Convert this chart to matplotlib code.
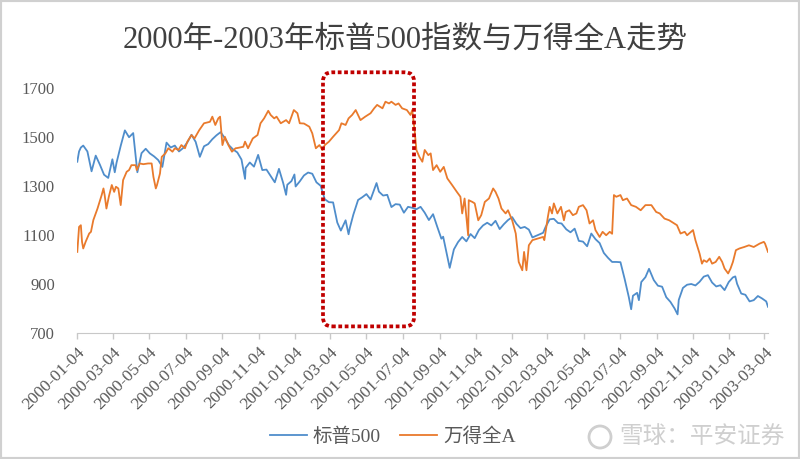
import matplotlib
matplotlib.use("Agg")
import matplotlib.pyplot as plt
import matplotlib.dates as mdates
import matplotlib.transforms as mtransforms
from matplotlib.patches import FancyBboxPatch, Rectangle, Circle
import pandas as pd

# 标普500 (周度读数 + 关键高低点)
spx_dates = [
    "2000-01-04", "2000-01-07", "2000-01-10", "2000-01-14", "2000-01-21", "2000-01-28",
    "2000-02-04", "2000-02-11", "2000-02-18", "2000-02-25", "2000-03-03", "2000-03-07",
    "2000-03-10", "2000-03-17", "2000-03-24", "2000-03-31", "2000-04-07", "2000-04-14",
    "2000-04-21", "2000-04-28", "2000-05-05", "2000-05-12", "2000-05-19", "2000-05-26",
    "2000-06-02", "2000-06-09", "2000-06-16", "2000-06-23", "2000-06-30", "2000-07-07",
    "2000-07-14", "2000-07-21", "2000-07-28", "2000-08-04", "2000-08-11", "2000-08-18",
    "2000-08-25", "2000-09-01", "2000-09-08", "2000-09-15", "2000-09-22", "2000-09-29",
    "2000-10-06", "2000-10-12", "2000-10-13", "2000-10-20", "2000-10-27", "2000-11-03",
    "2000-11-10", "2000-11-17", "2000-11-24", "2000-12-01", "2000-12-08", "2000-12-15",
    "2000-12-20", "2000-12-22", "2000-12-29", "2001-01-03", "2001-01-05", "2001-01-12",
    "2001-01-19", "2001-01-26", "2001-02-02", "2001-02-09", "2001-02-16", "2001-02-23",
    "2001-03-02", "2001-03-09", "2001-03-16", "2001-03-22", "2001-03-30", "2001-04-04",
    "2001-04-06", "2001-04-12", "2001-04-20", "2001-04-27", "2001-05-04", "2001-05-11",
    "2001-05-21", "2001-05-25", "2001-06-01", "2001-06-08", "2001-06-15", "2001-06-22",
    "2001-06-29", "2001-07-06", "2001-07-13", "2001-07-20", "2001-07-27", "2001-08-03",
    "2001-08-10", "2001-08-17", "2001-08-24", "2001-08-31", "2001-09-07", "2001-09-10",
    "2001-09-21", "2001-09-28", "2001-10-05", "2001-10-12", "2001-10-19", "2001-10-26",
    "2001-11-02", "2001-11-09", "2001-11-16", "2001-11-23", "2001-11-30", "2001-12-07",
    "2001-12-14", "2001-12-21", "2001-12-28", "2002-01-04", "2002-01-11", "2002-01-18",
    "2002-01-25", "2002-02-01", "2002-02-07", "2002-02-25", "2002-03-01", "2002-03-08",
    "2002-03-15", "2002-03-22", "2002-03-28", "2002-04-05", "2002-04-12", "2002-04-19",
    "2002-04-26", "2002-05-03", "2002-05-10", "2002-05-17", "2002-05-24", "2002-05-31",
    "2002-06-07", "2002-06-14", "2002-06-21", "2002-06-28", "2002-07-05", "2002-07-12",
    "2002-07-19", "2002-07-23", "2002-07-26", "2002-08-02", "2002-08-05", "2002-08-09",
    "2002-08-16", "2002-08-22", "2002-08-30", "2002-09-06", "2002-09-13", "2002-09-20",
    "2002-09-27", "2002-10-04", "2002-10-09", "2002-10-11", "2002-10-18", "2002-10-25",
    "2002-11-01", "2002-11-08", "2002-11-15", "2002-11-22", "2002-11-29", "2002-12-06",
    "2002-12-13", "2002-12-20", "2002-12-27", "2003-01-03", "2003-01-10", "2003-01-14",
    "2003-01-17", "2003-01-24", "2003-01-31", "2003-02-07", "2003-02-14", "2003-02-21",
    "2003-02-28", "2003-03-07", "2003-03-10",
]
spx_vals = [
    1399, 1441, 1457, 1465, 1441, 1360,
    1424, 1387, 1346, 1333, 1409, 1356,
    1395, 1464, 1527, 1499, 1516, 1356,
    1434, 1452, 1433, 1421, 1406, 1378,
    1477, 1457, 1465, 1441, 1455, 1478,
    1509, 1480, 1419, 1462, 1471, 1491,
    1507, 1520, 1495, 1466, 1449, 1437,
    1408, 1329, 1374, 1396, 1379, 1427,
    1365, 1367, 1341, 1315, 1370, 1313,
    1264, 1305, 1320, 1347, 1298, 1319,
    1343, 1355, 1350, 1315, 1301, 1246,
    1234, 1233, 1151, 1118, 1160, 1103,
    1128, 1183, 1243, 1254, 1267, 1245,
    1312, 1277, 1261, 1264, 1214, 1226,
    1224, 1191, 1215, 1211, 1205, 1215,
    1191, 1161, 1185, 1134, 1085, 1093,
    966, 1041, 1071, 1092, 1074, 1104,
    1087, 1120, 1139, 1150, 1139, 1158,
    1124, 1144, 1161, 1173, 1146, 1128,
    1133, 1122, 1090, 1109, 1132, 1164,
    1166, 1149, 1147, 1123, 1111, 1126,
    1076, 1073, 1054, 1106, 1083, 1067,
    1027, 1007, 990, 990, 989, 921,
    847, 797, 852, 864, 834, 908,
    928, 962, 916, 893, 889, 846,
    827, 800, 776, 835, 884, 897,
    900, 894, 909, 930, 936, 906,
    890, 895, 875, 908, 927, 931,
    901, 861, 856, 829, 834, 851,
    841, 829, 807,
]

# 万得全A
wind_dates = [
    "2000-01-04", "2000-01-07", "2000-01-10", "2000-01-12", "2000-01-14", "2000-01-18",
    "2000-01-24", "2000-01-27", "2000-01-31", "2000-02-07", "2000-02-14", "2000-02-17",
    "2000-02-19", "2000-02-22", "2000-02-26", "2000-03-02", "2000-03-06", "2000-03-09",
    "2000-03-13", "2000-03-17", "2000-03-21", "2000-03-27", "2000-03-31", "2000-04-04",
    "2000-04-11", "2000-04-13", "2000-04-18", "2000-04-24", "2000-05-02", "2000-05-08",
    "2000-05-11", "2000-05-15", "2000-05-17", "2000-05-22", "2000-05-25", "2000-05-31",
    "2000-06-05", "2000-06-12", "2000-06-16", "2000-06-22", "2000-06-27", "2000-07-03",
    "2000-07-07", "2000-07-14", "2000-07-19", "2000-07-27", "2000-08-04", "2000-08-14",
    "2000-08-18", "2000-08-23", "2000-08-28", "2000-08-31", "2000-09-04", "2000-09-08",
    "2000-09-14", "2000-09-20", "2000-09-26", "2000-09-29", "2000-10-09", "2000-10-12",
    "2000-10-17", "2000-10-25", "2000-11-02", "2000-11-07", "2000-11-13", "2000-11-20",
    "2000-11-24", "2000-11-30", "2000-12-04", "2000-12-11", "2000-12-20", "2000-12-25",
    "2001-01-02", "2001-01-08", "2001-01-12", "2001-01-19", "2001-01-28", "2001-02-02",
    "2001-02-08", "2001-02-14", "2001-02-19", "2001-02-23", "2001-03-02", "2001-03-09",
    "2001-03-19", "2001-03-23", "2001-03-30", "2001-04-04", "2001-04-10", "2001-04-16",
    "2001-04-24", "2001-05-02", "2001-05-11", "2001-05-17", "2001-05-22", "2001-05-31",
    "2001-06-05", "2001-06-11", "2001-06-15", "2001-06-22", "2001-06-27", "2001-07-03",
    "2001-07-11", "2001-07-17", "2001-07-20", "2001-07-24", "2001-07-27", "2001-08-01",
    "2001-08-06", "2001-08-10", "2001-08-16", "2001-08-20", "2001-08-24", "2001-08-30",
    "2001-09-05", "2001-09-11", "2001-09-17", "2001-09-25", "2001-10-03", "2001-10-09",
    "2001-10-12", "2001-10-16", "2001-10-22", "2001-10-23", "2001-10-29", "2001-11-02",
    "2001-11-08", "2001-11-13", "2001-11-19", "2001-11-26", "2001-12-03", "2001-12-07",
    "2001-12-12", "2001-12-17", "2001-12-24", "2001-12-28", "2002-01-04", "2002-01-10",
    "2002-01-15", "2002-01-21", "2002-01-24", "2002-01-28", "2002-02-01", "2002-02-07",
    "2002-02-25", "2002-02-27", "2002-03-05", "2002-03-08", "2002-03-12", "2002-03-15",
    "2002-03-21", "2002-03-27", "2002-04-01", "2002-04-04", "2002-04-10", "2002-04-16",
    "2002-04-22", "2002-04-26", "2002-05-03", "2002-05-09", "2002-05-14", "2002-05-20",
    "2002-05-24", "2002-05-31", "2002-06-05", "2002-06-11", "2002-06-17", "2002-06-21",
    "2002-06-24", "2002-06-28", "2002-07-05", "2002-07-09", "2002-07-16", "2002-07-23",
    "2002-07-31", "2002-08-08", "2002-08-16", "2002-08-26", "2002-09-03", "2002-09-09",
    "2002-09-17", "2002-09-25", "2002-10-08", "2002-10-14", "2002-10-21", "2002-10-25",
    "2002-11-04", "2002-11-08", "2002-11-15", "2002-11-19", "2002-11-22", "2002-11-27",
    "2002-12-02", "2002-12-06", "2002-12-12", "2002-12-18", "2002-12-23", "2002-12-27",
    "2003-01-02", "2003-01-06", "2003-01-10", "2003-01-15", "2003-01-21", "2003-01-29",
    "2003-02-06", "2003-02-14", "2003-02-24", "2003-03-03", "2003-03-05", "2003-03-10",
]
wind_vals = [
    1031, 1133, 1140, 1072, 1045, 1072,
    1106, 1113, 1161, 1208, 1263, 1290,
    1263, 1208, 1256, 1304, 1276, 1297,
    1290, 1222, 1324, 1358, 1365, 1385,
    1385, 1365, 1392, 1389, 1392, 1392,
    1337, 1290, 1304, 1351, 1419, 1433,
    1454, 1440, 1454, 1447, 1467, 1454,
    1481, 1508, 1494, 1528, 1556, 1562,
    1583, 1549, 1576, 1583, 1467, 1501,
    1467, 1440, 1454, 1455, 1460, 1481,
    1454, 1494, 1508, 1556, 1576, 1607,
    1590, 1576, 1583, 1556, 1569, 1556,
    1610, 1597, 1556, 1555, 1542, 1515,
    1454, 1467, 1447, 1467, 1481, 1501,
    1528, 1556, 1549, 1576, 1590, 1610,
    1569, 1583, 1597, 1617, 1631, 1617,
    1644, 1637, 1644, 1631, 1637, 1617,
    1610, 1590, 1610, 1528, 1447, 1419,
    1399, 1447, 1426, 1433, 1365, 1385,
    1358, 1378, 1331, 1304, 1276, 1256,
    1188, 1249, 1099, 1242, 1235, 1229,
    1160, 1181, 1235, 1249, 1290, 1276,
    1249, 1208, 1188, 1201, 1160, 1106,
    990, 956, 1031, 956, 1058, 1079,
    1092, 1079, 1174, 1215, 1188, 1229,
    1188, 1215, 1160, 1194, 1201, 1181,
    1188, 1215, 1222, 1201, 1147, 1160,
    1120, 1092, 1113, 1099, 1113, 1105,
    1263, 1256, 1263, 1242, 1249, 1222,
    1215, 1201, 1222, 1222, 1194, 1188,
    1167, 1160, 1140, 1106, 1113, 1099,
    1120, 1079, 1024, 983, 997, 990,
    1004, 983, 990, 1011, 990, 963,
    943, 963, 990, 1038, 1045, 1051,
    1058, 1051, 1065, 1072, 1065, 1031,
]

tick_dates = [
    "2000-01-04", "2000-03-04", "2000-05-04", "2000-07-04", "2000-09-04", "2000-11-04",
    "2001-01-04", "2001-03-04", "2001-05-04", "2001-07-04", "2001-09-04", "2001-11-04",
    "2002-01-04", "2002-03-04", "2002-05-04", "2002-07-04", "2002-09-04", "2002-11-04",
    "2003-01-04", "2003-03-04",
]

# 红色虚线框标注的区间
box_start, box_end = "2001-02-20", "2001-07-23"
box_low, box_high = 727, 1764

plt.rcParams['font.family'] = ['Liberation Serif', 'Noto Sans CJK SC']

fig = plt.figure(figsize=(8, 4.59), dpi=100)
ax = fig.add_axes([0.0966, 0.2745, 0.8634, 0.5338])

blue = '#4F8DCB'
orange = '#E97A2C'
ax.plot(pd.to_datetime(spx_dates), spx_vals, color=blue, lw=1.3, label='标普500')
ax.plot(pd.to_datetime(wind_dates), wind_vals, color=orange, lw=1.3, label='万得全A')

ax.set_xlim(pd.Timestamp('2000-01-04'), pd.Timestamp('2003-03-10'))
ax.set_ylim(700, 1700)
ax.set_yticks(range(700, 1701, 200))
ax.set_xticks(pd.to_datetime(tick_dates))
ax.set_xticklabels(tick_dates, rotation=45, ha='right', rotation_mode='anchor')

for s in ['top', 'right', 'left']:
    ax.spines[s].set_visible(False)
ax.spines['bottom'].set_color('#C8C8C8')
ax.tick_params(axis='x', colors='#C8C8C8', length=4, width=1, labelcolor='#595959',
               labelsize=12.5, pad=4)
ax.tick_params(axis='y', length=0, labelcolor='#595959', labelsize=12, pad=16)

fig.text(0.507, 0.913, '2000年-2003年标普500指数与万得全A走势', ha='center', va='center',
         fontsize=22, color='#404040')

leg = fig.legend(loc='center', bbox_to_anchor=(0.491, 0.048), ncol=2, frameon=False,
                 fontsize=14, handlelength=1.9, columnspacing=1.0, handletextpad=0.3)
for t in leg.get_texts():
    t.set_color('#595959')

# 红色圆角虚线框
x0, y0 = ax.transData.transform((mdates.date2num(pd.Timestamp(box_start)), box_low))
x1, y1 = ax.transData.transform((mdates.date2num(pd.Timestamp(box_end)), box_high))
r = 9
box = FancyBboxPatch((x0 + r, y0 + r), (x1 - x0) - 2 * r, (y1 - y0) - 2 * r,
                     boxstyle=f'round,pad={r},rounding_size={r}', fill=False,
                     ec='#C00000', lw=2.7, linestyle=(0, (1, 0.7)),
                     transform=mtransforms.IdentityTransform())
box.set_capstyle('butt')
fig.add_artist(box)

# 水印
fig.add_artist(Circle((600, 22), 11, transform=mtransforms.IdentityTransform(),
                      fill=False, ec='#CFCFCF', lw=2))
fig.text(0.774, 0.048, '雪球：平安证券', ha='left', va='center', fontsize=17,
         color='#CFCFCF', family=['Noto Sans CJK SC'])

# 图片外框
fig.add_artist(Rectangle((0, 0), 1, 1, transform=fig.transFigure, fill=False,
                         ec='#D0D0D0', lw=3))

fig.savefig('out.png', dpi=100)
